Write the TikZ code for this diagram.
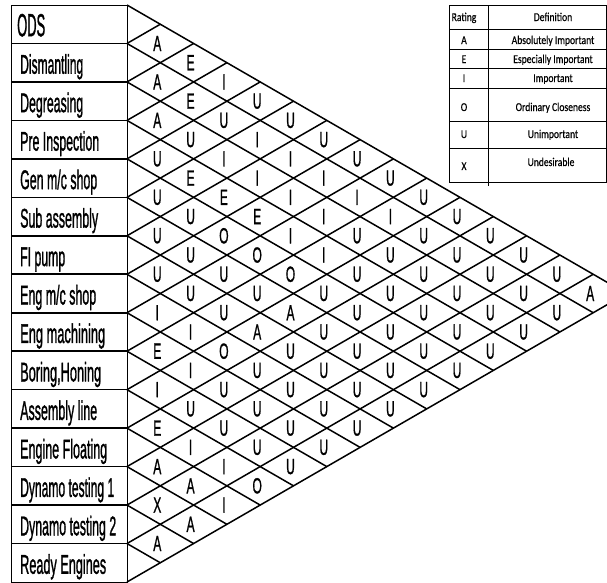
\documentclass[tikz,border=0pt]{standalone}
\usepackage{fontspec}
\usepackage{graphicx}
\setmainfont{Liberation Sans}
\newfontfamily\labfont[FakeBold=1.6]{Liberation Sans}
\newfontfamily\letfont[FakeBold=1.2]{Liberation Sans}
\newfontfamily\tabfont[FakeStretch=0.8,FakeBold=0.4]{Carlito}
\begin{document}
\begin{tikzpicture}[x=1pt,y=-1pt,
  gridline/.style={line width=1.5pt,black},
  rowline/.style={line width=1.6pt,black},
  thinline/.style={line width=0.8pt,black},
  rel/.style={inner sep=0pt,font=\letfont\fontsize{22}{22}\selectfont},
  lbl/.style={inner sep=0pt,anchor=base west,font=\labfont\fontsize{27}{27}\selectfont},
  tab/.style={inner sep=0pt,anchor=base,font=\tabfont\fontsize{12}{12}\selectfont}]
\useasboundingbox (0,0) rectangle (607,582);
\clip (0,0) rectangle (607,582);
\def\xo{127}\def\yo{5}\def\w{33.3}\def\h{19.233}
% label column
\draw[thinline] (11,\yo) rectangle (\xo,582);
\foreach \k in {1,...,14}
  \draw[rowline] (11,{\yo+2*\h*\k}) -- (\xo,{\yo+2*\h*\k});
\node[lbl,font=\labfont\fontsize{32}{32}\selectfont] (lab1) at (17,{\yo+\h+12}) {\resizebox{28pt}{\height}{ODS}};
\foreach \k/\lw/\t in {2/63/Dismantling,3/63/Degreasing,4/79/{Pre Inspection},
  5/77/{Gen m/c shop},6/78/{Sub assembly},7/45/{FI pump},8/76/{Eng m/c shop},
  9/85/{Eng machining},10/81/{Boring,Honing},11/77/{Assembly line},
  12/87/{Engine Floating},13/94/{Dynamo testing 1},14/96/{Dynamo testing 2},
  15/86/{Ready Engines}}
  \node[lbl] (lab\k) at (20,{\yo+2*\h*(\k-0.5)+11}) {\resizebox{\lw pt}{\height}{\t}};
% diamond grid
\foreach \k in {0,...,14}
  \draw[gridline] (\xo,{\yo+2*\h*\k}) -- ++({(15-\k)*\w},{(15-\k)*\h});
\foreach \k in {1,...,15}
  \draw[gridline] (\xo,{\yo+2*\h*\k}) -- ++({\k*\w},{-\k*\h});
% ratings
\foreach \i/\j/\L in {
 1/2/A,1/3/E,1/4/I,1/5/U,1/6/U,1/7/U,1/8/U,1/9/U,1/10/U,1/11/U,1/12/U,1/13/U,1/14/U,1/15/A,
 2/3/A,2/4/E,2/5/U,2/6/I,2/7/I,2/8/I,2/9/I,2/10/I,2/11/U,2/12/U,2/13/U,2/14/U,2/15/U,
 3/4/A,3/5/U,3/6/I,3/7/I,3/8/I,3/9/I,3/10/U,3/11/U,3/12/U,3/13/U,3/14/U,3/15/U,
 4/5/U,4/6/E,4/7/E,4/8/E,4/9/I,4/10/I,4/11/U,4/12/U,4/13/U,4/14/U,4/15/U,
 5/6/U,5/7/U,5/8/O,5/9/O,5/10/O,5/11/U,5/12/U,5/13/U,5/14/U,5/15/U,
 6/7/U,6/8/U,6/9/U,6/10/U,6/11/A,6/12/U,6/13/U,6/14/U,6/15/U,
 7/8/U,7/9/U,7/10/U,7/11/A,7/12/U,7/13/U,7/14/U,7/15/U,
 8/9/I,8/10/I,8/11/O,8/12/U,8/13/U,8/14/U,8/15/U,
 9/10/E,9/11/I,9/12/U,9/13/U,9/14/U,9/15/U,
 10/11/I,10/12/U,10/13/U,10/14/U,10/15/U,
 11/12/E,11/13/I,11/14/I,11/15/O,
 12/13/A,12/14/A,12/15/I,
 13/14/X,13/15/A,
 14/15/A}
  \node[rel] (r\i-\j) at ({\xo+(\j-\i)*\w-3},{\yo+\h*(\i+\j-1)}) {\scalebox{0.55}[1]{\L}};
% legend table
\fill[white] (449.3,5) rectangle (606,182.3);
\draw[thinline] (449.3,5) rectangle (606,182.3);
\draw[thinline] (488.3,5) -- (488.3,186);
\foreach \yy in {29.3,49.3,68.3,88.3,121,148.3}
  \draw[thinline] (449.3,\yy) -- (606,\yy);
\foreach \n/\yy/\r/\d in {h/21/Rating/Definition,a/44/A/Absolutely Important,
  e/63/E/Especially Important,i/82/I/Important,o/111/O/Ordinary Closeness,
  u/138/U/Unimportant}{
  \node[tab] (tr\n) at (464,\yy) {\r};
  \node[tab] (td\n) at (553,\yy) {\d};}
\node[tab] (trx) at (464,170) {X};
\node[tab] (tdx) at (551,166) {Undesirable};
\end{tikzpicture}
\end{document}
